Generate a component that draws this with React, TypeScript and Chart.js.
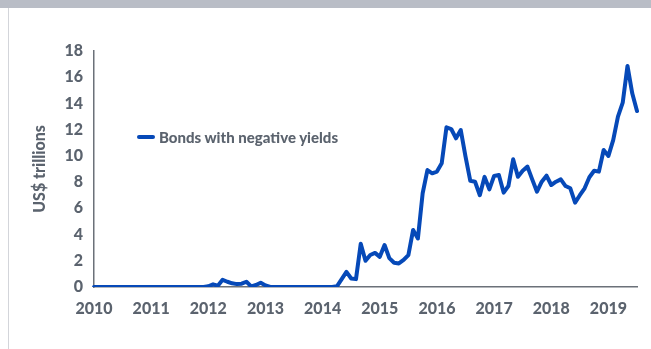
import React, { useEffect, useRef } from "react";
import { Chart, registerables } from "chart.js";

Chart.register(...registerables);

const years = [2010, 2011, 2012, 2013, 2014, 2015, 2016, 2017, 2018, 2019];
const monthsShown = 115; // Jan 2010 .. Jul 2019
const seriesLabel = "Bonds with negative yields";
const yTicks = [0, 2, 4, 6, 8, 10, 12, 14, 16, 18];
const yTitle = "US$ trillions";

// Monthly values, US$ trillions
const values2010 = [0, 0, 0, 0, 0, 0, 0, 0, 0, 0, 0, 0];
const values2011 = [0, 0, 0, 0, 0, 0, 0, 0, 0, 0, 0, 0];
const values2012 = [0.05, 0.2, 0.1, 0.55, 0.4, 0.28, 0.22, 0.25, 0.4, 0.05, 0.15, 0.33];
const values2013 = [0.12, 0, 0, 0, 0, 0, 0, 0, 0, 0, 0, 0];
const values2014 = [0, 0, 0, 0.05, 0.6, 1.15, 0.65, 0.6, 3.3, 2.0, 2.44, 2.6];
const values2015 = [2.3, 3.2, 2.2, 1.85, 1.8, 2.06, 2.44, 4.35, 3.7, 7.15, 8.92, 8.67];
const values2016 = [8.8, 9.43, 12.18, 12.05, 11.34, 11.97, 9.94, 8.1, 8.03, 7.0, 8.4, 7.45];
const values2017 = [8.47, 8.54, 7.2, 7.7, 9.74, 8.41, 8.87, 9.18, 8.21, 7.27, 8.03, 8.49];
const values2018 = [7.78, 8.03, 8.21, 7.7, 7.53, 6.43, 7.0, 7.53, 8.37, 8.87, 8.8, 10.45];
const values2019 = [10.0, 11.2, 13.0, 14.06, 16.86, 14.77, 13.42];

const values = [
  ...values2010, ...values2011, ...values2012, ...values2013, ...values2014,
  ...values2015, ...values2016, ...values2017, ...values2018, ...values2019,
];

const labels: string[] = [];
for (let i = 0; i < monthsShown; i++) {
  const y = years[Math.floor(i / 12)];
  labels.push(i % 12 === 0 ? String(y) : "");
}

const TEXT = "#5b636e";
const AXIS = "#6b7179";
const BLUE = "#0649b8";
const FONT = "Lato";
const WEIGHT = 900;

export default function App() {
  const ref = useRef<HTMLCanvasElement>(null);
  useEffect(() => {
    if (!ref.current) return;
    const chart = new Chart(ref.current, {
      type: "line",
      data: {
        labels,
        datasets: [
          {
            label: seriesLabel,
            data: values,
            borderColor: BLUE,
            borderWidth: 4,
            pointRadius: 0,
            tension: 0,
            fill: false,
            borderJoinStyle: "round",
            borderCapStyle: "round",
          },
        ],
      },
      options: {
        animation: false,
        responsive: false,
        maintainAspectRatio: false,
        layout: { padding: { left: 0, right: 14, top: 51, bottom: 0 } },
        plugins: { legend: { display: false }, tooltip: { enabled: false } },
        scales: {
          x: {
            type: "category",
            grid: { display: false, drawTicks: false },
            border: { display: true, color: AXIS, width: 1.5 },
            ticks: {
              autoSkip: false,
              maxRotation: 0,
              minRotation: 0,
              padding: 12,
              color: TEXT,
              font: { family: FONT, size: 16, weight: WEIGHT as any },
            },
            afterFit: (s: any) => {
              s.height = 62;
            },
          },
          y: {
            min: 0,
            max: 18,
            afterBuildTicks: (s: any) => {
              s.ticks = yTicks.map((v) => ({ value: v }));
            },
            grid: { display: false, drawTicks: false },
            border: { display: true, color: AXIS, width: 1.5 },
            ticks: {
              padding: 11,
              color: TEXT,
              font: { family: FONT, size: 16, weight: WEIGHT as any },
            },
            title: {
              display: true,
              text: yTitle,
              color: TEXT,
              font: { family: FONT, size: 16, weight: WEIGHT as any },
              padding: { top: 30, bottom: 0 },
            },
            afterFit: (s: any) => {
              s.width = 94;
            },
          },
        },
      },
    });
    return () => chart.destroy();
  }, []);

  return (
    <div style={{ position: "fixed", left: 0, top: 0, width: 651, height: 349, background: "#fff", overflow: "hidden" }}>
      <div style={{ position: "absolute", left: 0, top: 0, width: 651, height: 8, background: "#b9bdc6" }} />
      <div style={{ position: "absolute", left: 8, top: 8, width: 1, height: 341, background: "#d3d5da" }} />
      <canvas ref={ref} width={651} height={349} style={{ position: "absolute", left: 0, top: 0, width: 651, height: 349 }} />
      <div
        style={{
          position: "absolute",
          left: 137,
          top: 127,
          height: 20,
          display: "flex",
          alignItems: "center",
          fontFamily: FONT,
          fontWeight: WEIGHT,
          fontSize: 15,
          color: TEXT,
          whiteSpace: "nowrap",
        }}
      >
        <span style={{ display: "inline-block", width: 18, height: 4, background: BLUE, borderRadius: 2, marginRight: 4 }} />
        <span>{seriesLabel}</span>
      </div>
    </div>
  );
}
